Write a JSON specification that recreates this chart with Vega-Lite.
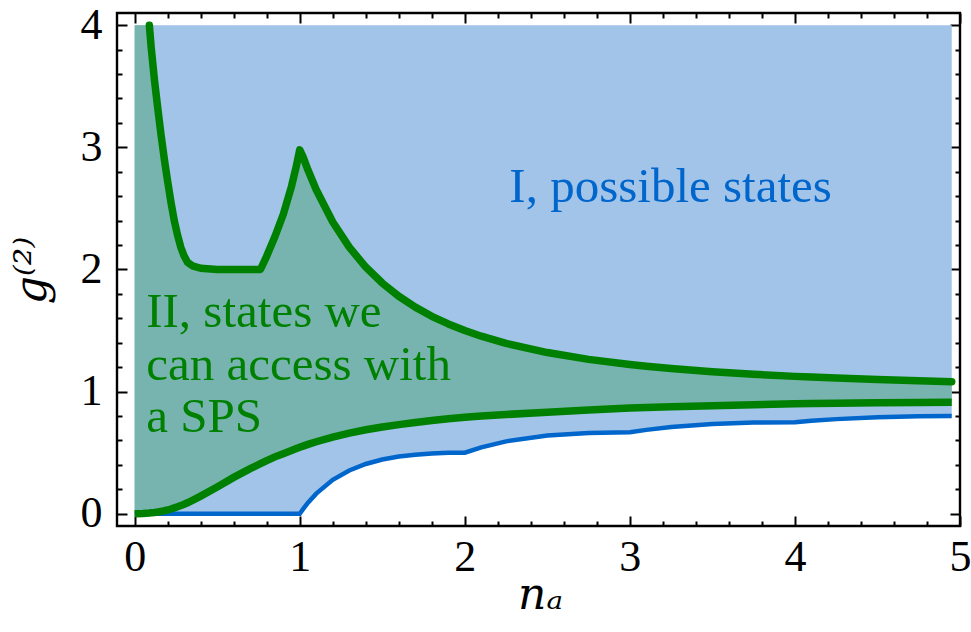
{
  "$schema": "https://vega.github.io/schema/vega-lite/v6.json",
  "width": 843,
  "height": 513,
  "autosize": "none",
  "padding": {"left": 117, "top": 13, "right": 11, "bottom": 106},
  "background": "white",
  "datasets": {
    "curves": [
      {"x": 0, "blue": 0, "lo": 0, "hi": 4},
      {"x": 0.05, "blue": 0, "lo": 0.002, "hi": 4},
      {"x": 0.089, "blue": 0, "lo": 0.006, "hi": 4},
      {"x": 0.1, "blue": 0, "lo": 0.008, "hi": 3.82},
      {"x": 0.12, "blue": 0, "lo": 0.011, "hi": 3.55},
      {"x": 0.14, "blue": 0, "lo": 0.015, "hi": 3.32},
      {"x": 0.16, "blue": 0, "lo": 0.02, "hi": 3.1},
      {"x": 0.18, "blue": 0, "lo": 0.025, "hi": 2.9},
      {"x": 0.2, "blue": 0, "lo": 0.031, "hi": 2.72},
      {"x": 0.22, "blue": 0, "lo": 0.039, "hi": 2.55},
      {"x": 0.24, "blue": 0, "lo": 0.048, "hi": 2.4},
      {"x": 0.26, "blue": 0, "lo": 0.057, "hi": 2.28},
      {"x": 0.28, "blue": 0, "lo": 0.067, "hi": 2.18},
      {"x": 0.3, "blue": 0, "lo": 0.078, "hi": 2.11},
      {"x": 0.32, "blue": 0, "lo": 0.09, "hi": 2.06},
      {"x": 0.35, "blue": 0, "lo": 0.11, "hi": 2.03},
      {"x": 0.4, "blue": 0, "lo": 0.145, "hi": 2.01},
      {"x": 0.5, "blue": 0, "lo": 0.22, "hi": 2.0},
      {"x": 0.6, "blue": 0, "lo": 0.298, "hi": 2.0},
      {"x": 0.7, "blue": 0, "lo": 0.37, "hi": 2.0},
      {"x": 0.762, "blue": 0, "lo": 0.41, "hi": 2.0},
      {"x": 0.8, "blue": 0, "lo": 0.435, "hi": 2.11},
      {"x": 0.85, "blue": 0, "lo": 0.466, "hi": 2.27},
      {"x": 0.9, "blue": 0, "lo": 0.492, "hi": 2.45},
      {"x": 0.95, "blue": 0, "lo": 0.518, "hi": 2.68},
      {"x": 0.98, "blue": 0, "lo": 0.534, "hi": 2.85},
      {"x": 1.0, "blue": 0, "lo": 0.545, "hi": 2.98},
      {"x": 1.02, "blue": 0.038, "lo": 0.554, "hi": 2.922},
      {"x": 1.05, "blue": 0.091, "lo": 0.568, "hi": 2.814},
      {"x": 1.1, "blue": 0.165, "lo": 0.59, "hi": 2.653},
      {"x": 1.2, "blue": 0.278, "lo": 0.628, "hi": 2.389},
      {"x": 1.3, "blue": 0.355, "lo": 0.66, "hi": 2.183},
      {"x": 1.4, "blue": 0.408, "lo": 0.688, "hi": 2.02},
      {"x": 1.5, "blue": 0.444, "lo": 0.71, "hi": 1.889},
      {"x": 1.6, "blue": 0.469, "lo": 0.73, "hi": 1.781},
      {"x": 1.7, "blue": 0.484, "lo": 0.748, "hi": 1.692},
      {"x": 1.8, "blue": 0.494, "lo": 0.764, "hi": 1.617},
      {"x": 1.9, "blue": 0.499, "lo": 0.778, "hi": 1.554},
      {"x": 2.0, "blue": 0.5, "lo": 0.79, "hi": 1.5},
      {"x": 2.1, "blue": 0.544, "lo": 0.8, "hi": 1.454},
      {"x": 2.25, "blue": 0.593, "lo": 0.813, "hi": 1.395},
      {"x": 2.5, "blue": 0.64, "lo": 0.832, "hi": 1.32},
      {"x": 2.75, "blue": 0.661, "lo": 0.85, "hi": 1.264},
      {"x": 3.0, "blue": 0.667, "lo": 0.866, "hi": 1.222},
      {"x": 3.1, "blue": 0.687, "lo": 0.87, "hi": 1.208},
      {"x": 3.25, "blue": 0.71, "lo": 0.876, "hi": 1.189},
      {"x": 3.5, "blue": 0.735, "lo": 0.885, "hi": 1.163},
      {"x": 3.75, "blue": 0.747, "lo": 0.893, "hi": 1.142},
      {"x": 4.0, "blue": 0.75, "lo": 0.9, "hi": 1.125},
      {"x": 4.1, "blue": 0.761, "lo": 0.902, "hi": 1.119},
      {"x": 4.25, "blue": 0.775, "lo": 0.905, "hi": 1.111},
      {"x": 4.5, "blue": 0.79, "lo": 0.909, "hi": 1.099},
      {"x": 4.75, "blue": 0.798, "lo": 0.912, "hi": 1.089},
      {"x": 4.95, "blue": 0.8, "lo": 0.914, "hi": 1.082}
    ],
    "notes": [
      {"x": 3.247, "y": 2.556, "text": "I, possible states", "region": "I"},
      {"x": 0.07, "y": 1.531, "text": "II, states we", "region": "II"},
      {"x": 0.07, "y": 1.094, "text": "can access with", "region": "II"},
      {"x": 0.07, "y": 0.67, "text": "a SPS", "region": "II"}
    ]
  },
  "data": {"name": "curves"},
  "resolve": {"axis": {"x": "independent", "y": "independent"}},
  "layer": [
    {
      "mark": {"type": "area", "color": "#a1c4e8", "opacity": 1},
      "encoding": {
        "x": {
          "field": "x", "type": "quantitative",
          "scale": {"domain": [-0.107, 5.0], "nice": false, "zero": false},
          "axis": {
            "orient": "bottom", "values": [0, 1, 2, 3, 4, 5], "tickSize": -10,
            "labelPadding": 19, "labelFlush": false, "labelOverlap": false,
            "title": "nₐ", "titleX": 423, "titleY": 82,
            "titleAlign": "center", "titleBaseline": "alphabetic", "titleAnchor": null
          }
        },
        "y": {
          "field": "blue", "type": "quantitative",
          "scale": {"domain": [-0.1, 4.1], "nice": false, "zero": false},
          "axis": {
            "orient": "left", "values": [0, 1, 2, 3, 4], "tickSize": -10,
            "labelPadding": 25, "labelFlush": false, "labelOverlap": false,
            "title": "g⁽²⁾", "titleX": -72, "titleY": 257, "titleAngle": -90,
            "titleAlign": "center", "titleBaseline": "alphabetic", "titleAnchor": null
          }
        },
        "y2": {"datum": 4}
      }
    },
    {
      "mark": {"type": "area", "color": "#78b4af", "opacity": 1},
      "encoding": {
        "x": {
          "field": "x", "type": "quantitative",
          "axis": {
            "orient": "bottom", "tickSize": -5, "labels": false, "title": null,
            "values": [0.2, 0.4, 0.6, 0.8, 1.2, 1.4, 1.6, 1.8, 2.2, 2.4, 2.6, 2.8, 3.2, 3.4, 3.6, 3.8, 4.2, 4.4, 4.6, 4.8]
          }
        },
        "y": {
          "field": "lo", "type": "quantitative",
          "axis": {
            "orient": "left", "tickSize": -5, "labels": false, "title": null,
            "values": [0.2, 0.4, 0.6, 0.8, 1.2, 1.4, 1.6, 1.8, 2.2, 2.4, 2.6, 2.8, 3.2, 3.4, 3.6, 3.8]
          }
        },
        "y2": {"field": "hi"}
      }
    },
    {
      "mark": {"type": "line", "color": "#0066cc", "strokeWidth": 4.5, "strokeCap": "butt"},
      "encoding": {
        "x": {
          "field": "x", "type": "quantitative",
          "axis": {"orient": "top", "values": [0, 1, 2, 3, 4, 5], "tickSize": -10, "labels": false, "title": null}
        },
        "y": {
          "field": "blue", "type": "quantitative",
          "axis": {"orient": "right", "values": [0, 1, 2, 3, 4], "tickSize": -10, "labels": false, "title": null}
        }
      }
    },
    {
      "mark": {"type": "line", "color": "#008000", "strokeWidth": 7.5, "strokeCap": "butt"},
      "encoding": {
        "x": {
          "field": "x", "type": "quantitative",
          "axis": {
            "orient": "top", "tickSize": -5, "labels": false, "title": null,
            "values": [0.2, 0.4, 0.6, 0.8, 1.2, 1.4, 1.6, 1.8, 2.2, 2.4, 2.6, 2.8, 3.2, 3.4, 3.6, 3.8, 4.2, 4.4, 4.6, 4.8]
          }
        },
        "y": {
          "field": "lo", "type": "quantitative",
          "axis": {
            "orient": "right", "tickSize": -5, "labels": false, "title": null,
            "values": [0.2, 0.4, 0.6, 0.8, 1.2, 1.4, 1.6, 1.8, 2.2, 2.4, 2.6, 2.8, 3.2, 3.4, 3.6, 3.8]
          }
        }
      }
    },
    {
      "transform": [{"filter": "datum.x >= 0.089"}],
      "mark": {"type": "line", "color": "#008000", "strokeWidth": 7.5, "strokeCap": "round", "strokeJoin": "round"},
      "encoding": {
        "x": {"field": "x", "type": "quantitative", "axis": null},
        "y": {"field": "hi", "type": "quantitative", "axis": null}
      }
    },
    {
      "data": {"name": "notes"},
      "transform": [{"filter": "datum.region === 'I'"}],
      "mark": {"type": "text", "color": "#0066cc", "font": "Liberation Serif", "fontSize": 49, "align": "center", "baseline": "alphabetic"},
      "encoding": {
        "x": {"field": "x", "type": "quantitative", "axis": null},
        "y": {"field": "y", "type": "quantitative", "axis": null},
        "text": {"field": "text"}
      }
    },
    {
      "data": {"name": "notes"},
      "transform": [{"filter": "datum.region === 'II'"}],
      "mark": {"type": "text", "color": "#008000", "font": "Liberation Serif", "fontSize": 49, "align": "left", "baseline": "alphabetic"},
      "encoding": {
        "x": {"field": "x", "type": "quantitative", "axis": null},
        "y": {"field": "y", "type": "quantitative", "axis": null},
        "text": {"field": "text"}
      }
    }
  ],
  "config": {
    "view": {"stroke": "black", "strokeWidth": 2.4},
    "axis": {
      "domain": false,
      "grid": false,
      "tickColor": "black",
      "tickWidth": 2,
      "labelFont": "Liberation Serif",
      "labelFontSize": 44,
      "labelColor": "black",
      "titleFont": "DejaVu Serif",
      "titleFontSize": 44,
      "titleFontStyle": "italic",
      "titleFontWeight": "normal",
      "titleColor": "black"
    }
  }
}
